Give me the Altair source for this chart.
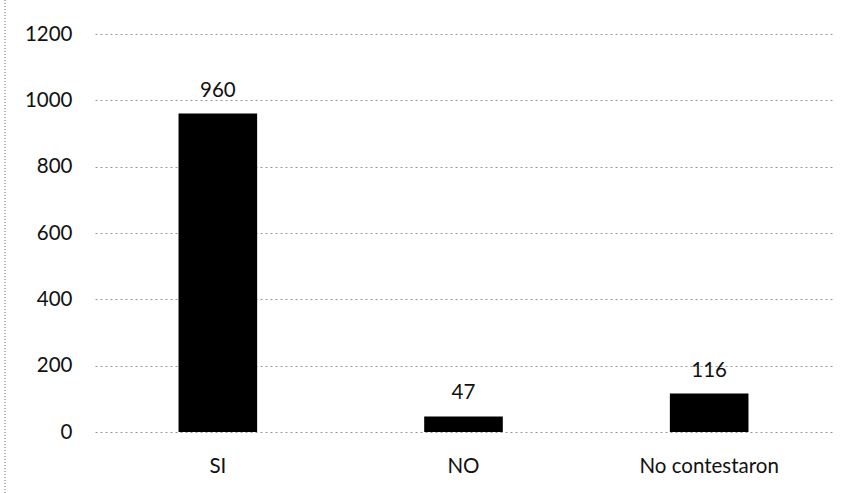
import altair as alt
import pandas as pd

categories = ["SI", "NO", "No contestaron"]
values = [960, 47, 116]
y_ticks = [0, 200, 400, 600, 800, 1000, 1200]

df = pd.DataFrame({"cat": categories, "val": values})

FONT = "Lato"
FS = 20.5

x = alt.X("cat:N", sort=categories, title=None,
          scale=alt.Scale(paddingInner=0.68, paddingOuter=0.34),
          axis=alt.Axis(labelAngle=0, labelFont=FONT, labelFontSize=FS, labelColor="#111",
                        ticks=False, domain=False, labelPadding=24, grid=False))
y = alt.Y("val:Q", title=None,
          scale=alt.Scale(domain=[0, 1200], nice=False),
          axis=alt.Axis(values=y_ticks, format="d", labelFont=FONT, labelFontSize=FS, labelColor="#111",
                        ticks=False, domain=False, labelPadding=23,
                        grid=True, gridColor="#999", gridDash=[2, 3], gridWidth=1))

bars = alt.Chart(df).mark_bar(color="#000000").encode(x=x, y=y)
labels = alt.Chart(df).mark_text(baseline="bottom", dy=-13, font=FONT, fontSize=FS, color="#111").encode(
    x=alt.X("cat:N", sort=categories), y="val:Q", text="val:Q")
border = alt.Chart(df).mark_rule(color="#aaa", strokeDash=[1, 2], strokeWidth=1).encode(
    x=alt.value(-90), y=alt.value(-34), y2=alt.value(459))

chart = alt.layer(bars, labels, border).properties(
    width=737, height=398,
    padding={"left": 95, "top": 34, "right": 16, "bottom": 61},
    autosize=alt.AutoSizeParams(type="none"),
    background="white",
).configure_view(stroke="transparent", strokeWidth=0)

chart.save("out.html", embed_options={"renderer": "svg", "actions": False})
